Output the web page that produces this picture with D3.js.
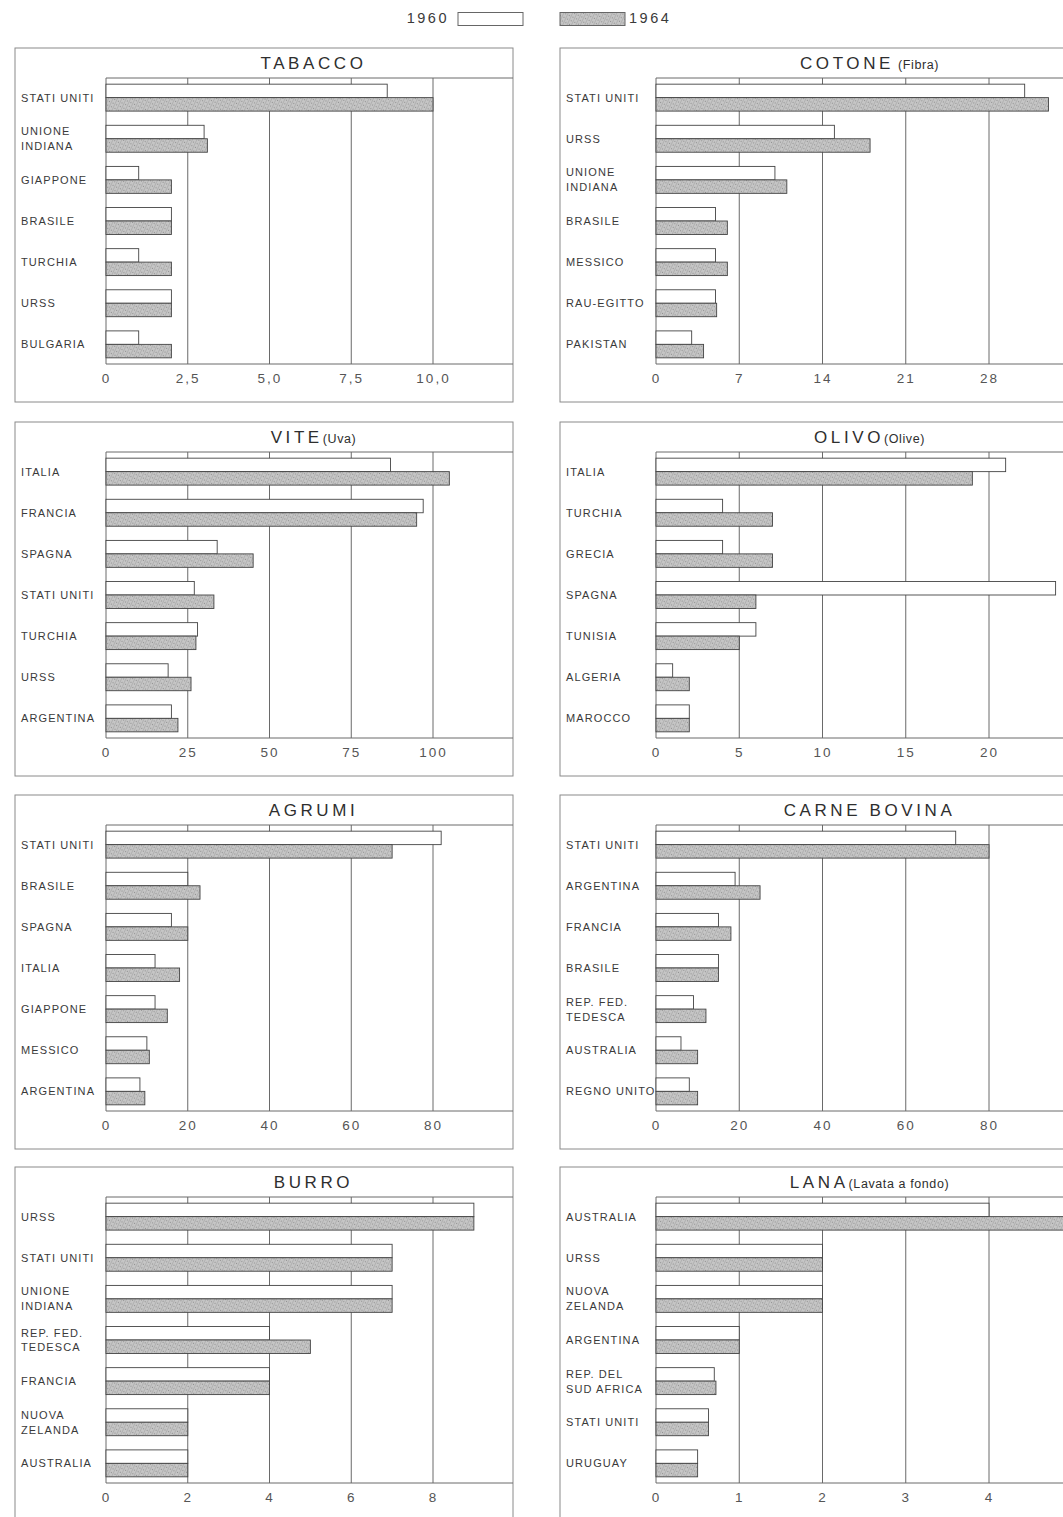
<!DOCTYPE html>
<html><head><meta charset="utf-8">
<script src="https://cdn.jsdelivr.net/npm/d3@7"></script>
<style>body{margin:0;background:#fff}svg{display:block}</style>
</head><body><svg id="c" width="1063" height="1517"></svg>
<script>
const years = ["1960", "1964"];

const tabaccoCountries = ["STATI UNITI", "UNIONE|INDIANA", "GIAPPONE", "BRASILE", "TURCHIA", "URSS", "BULGARIA"];
const tabacco1960 = [8.6, 3.0, 1.0, 2.0, 1.0, 2.0, 1.0];
const tabacco1964 = [10.0, 3.1, 2.0, 2.0, 2.0, 2.0, 2.0];
const tabaccoTicks = [0, 2.5, 5, 7.5, 10];
const tabaccoTickLabels = ["0", "2,5", "5,0", "7,5", "10,0"];

const cotoneCountries = ["STATI UNITI", "URSS", "UNIONE|INDIANA", "BRASILE", "MESSICO", "RAU-EGITTO", "PAKISTAN"];
const cotone1960 = [31, 15, 10, 5, 5, 5, 3];
const cotone1964 = [33, 18, 11, 6, 6, 5.1, 4];
const cotoneTicks = [0, 7, 14, 21, 28];
const cotoneTickLabels = ["0", "7", "14", "21", "28"];

const viteCountries = ["ITALIA", "FRANCIA", "SPAGNA", "STATI UNITI", "TURCHIA", "URSS", "ARGENTINA"];
const vite1960 = [87, 97, 34, 27, 28, 19, 20];
const vite1964 = [105, 95, 45, 33, 27.5, 26, 22];
const viteTicks = [0, 25, 50, 75, 100];
const viteTickLabels = ["0", "25", "50", "75", "100"];

const olivoCountries = ["ITALIA", "TURCHIA", "GRECIA", "SPAGNA", "TUNISIA", "ALGERIA", "MAROCCO"];
const olivo1960 = [21, 4, 4, 24, 6, 1, 2];
const olivo1964 = [19, 7, 7, 6, 5, 2, 2];
const olivoTicks = [0, 5, 10, 15, 20];
const olivoTickLabels = ["0", "5", "10", "15", "20"];

const agrumiCountries = ["STATI UNITI", "BRASILE", "SPAGNA", "ITALIA", "GIAPPONE", "MESSICO", "ARGENTINA"];
const agrumi1960 = [82, 20, 16, 12, 12, 10, 8.3];
const agrumi1964 = [70, 23, 20, 18, 15, 10.6, 9.5];
const agrumiTicks = [0, 20, 40, 60, 80];
const agrumiTickLabels = ["0", "20", "40", "60", "80"];

const carneCountries = ["STATI UNITI", "ARGENTINA", "FRANCIA", "BRASILE", "REP. FED.|TEDESCA", "AUSTRALIA", "REGNO UNITO"];
const carne1960 = [72, 19, 15, 15, 9, 6, 8];
const carne1964 = [80, 25, 18, 15, 12, 10, 10];
const carneTicks = [0, 20, 40, 60, 80];
const carneTickLabels = ["0", "20", "40", "60", "80"];

const burroCountries = ["URSS", "STATI UNITI", "UNIONE|INDIANA", "REP. FED.|TEDESCA", "FRANCIA", "NUOVA|ZELANDA", "AUSTRALIA"];
const burro1960 = [9, 7, 7, 4, 4, 2, 2];
const burro1964 = [9, 7, 7, 5, 4, 2, 2];
const burroTicks = [0, 2, 4, 6, 8];
const burroTickLabels = ["0", "2", "4", "6", "8"];

const lanaCountries = ["AUSTRALIA", "URSS", "NUOVA|ZELANDA", "ARGENTINA", "REP. DEL|SUD AFRICA", "STATI UNITI", "URUGUAY"];
const lana1960 = [4, 2, 2, 1, 0.7, 0.63, 0.5];
const lana1964 = [5, 2, 2, 1, 0.72, 0.63, 0.5];
const lanaTicks = [0, 1, 2, 3, 4];
const lanaTickLabels = ["0", "1", "2", "3", "4"];

const panels = [
  {title: "TABACCO", sub: "", cats: tabaccoCountries, v: [tabacco1960, tabacco1964], ticks: tabaccoTicks, labels: tabaccoTickLabels, col: 0, row: 0},
  {title: "COTONE", sub: " (Fibra)", cats: cotoneCountries, v: [cotone1960, cotone1964], ticks: cotoneTicks, labels: cotoneTickLabels, col: 1, row: 0},
  {title: "VITE", sub: "(Uva)", cats: viteCountries, v: [vite1960, vite1964], ticks: viteTicks, labels: viteTickLabels, col: 0, row: 1},
  {title: "OLIVO", sub: "(Olive)", cats: olivoCountries, v: [olivo1960, olivo1964], ticks: olivoTicks, labels: olivoTickLabels, col: 1, row: 1},
  {title: "AGRUMI", sub: "", cats: agrumiCountries, v: [agrumi1960, agrumi1964], ticks: agrumiTicks, labels: agrumiTickLabels, col: 0, row: 2},
  {title: "CARNE BOVINA", sub: "", cats: carneCountries, v: [carne1960, carne1964], ticks: carneTicks, labels: carneTickLabels, col: 1, row: 2},
  {title: "BURRO", sub: "", cats: burroCountries, v: [burro1960, burro1964], ticks: burroTicks, labels: burroTickLabels, col: 0, row: 3},
  {title: "LANA", sub: "(Lavata a fondo)", cats: lanaCountries, v: [lana1960, lana1964], ticks: lanaTicks, labels: lanaTickLabels, col: 1, row: 3}
];

const svg = d3.select("#c");
const defs = svg.append("defs");
const pat = defs.append("pattern").attr("id", "stip").attr("width", 4).attr("height", 4)
  .attr("patternUnits", "userSpaceOnUse").attr("patternTransform", "rotate(25)");
pat.append("rect").attr("width", 4).attr("height", 4).attr("fill", "#c6c6c6");
pat.append("line").attr("x1", 0).attr("y1", 0).attr("x2", 0).attr("y2", 4)
  .attr("stroke", "#a2a2a2").attr("stroke-width", 1.2);
pat.append("circle").attr("cx", 2.5).attr("cy", 1.2).attr("r", 0.55).attr("fill", "#7d7d7d");

const FONT = "'Liberation Sans', Arial, sans-serif";
const INK = "#3a3a3a";
const LINE = "#6a6a6a";

// legend
const lg = svg.append("g");
lg.append("text").attr("x", 449).attr("y", 23).attr("text-anchor", "end")
  .attr("font-family", FONT).attr("font-size", 14.5).attr("letter-spacing", 2.5).attr("fill", INK).text(years[0]);
lg.append("rect").attr("x", 458).attr("y", 12.5).attr("width", 65).attr("height", 13)
  .attr("fill", "#fff").attr("stroke", "#666").attr("stroke-width", 1);
lg.append("rect").attr("x", 560).attr("y", 12.5).attr("width", 65).attr("height", 13)
  .attr("fill", "url(#stip)").attr("stroke", "#666").attr("stroke-width", 1);
lg.append("text").attr("x", 629).attr("y", 23)
  .attr("font-family", FONT).attr("font-size", 14.5).attr("letter-spacing", 2.5).attr("fill", INK).text(years[1]);

const colGeom = [
  {frameX: 15, frameW: 498, plotL: 106, tickMaxPx: 433},
  {frameX: 560, frameW: 520, plotL: 656, tickMaxPx: 989}
];
const rowTops = [48, 422, 795, 1167];
const frameH = 354;

panels.forEach(p => {
  const cg = colGeom[p.col];
  const top = rowTops[p.row];
  const plotT = top + 30, plotB = top + 316;
  const frameR = cg.frameX + cg.frameW;
  const g = svg.append("g");

  const x = d3.scaleLinear().domain([0, p.ticks[p.ticks.length - 1]]).range([cg.plotL, cg.tickMaxPx]);
  const y = d3.scaleBand().domain(p.cats).range([plotT, plotB]).paddingInner(0.345).paddingOuter(0.15);
  const yy = d3.scaleBand().domain(years).range([0, y.bandwidth()]);

  // frame
  g.append("rect").attr("x", cg.frameX).attr("y", top).attr("width", cg.frameW).attr("height", frameH)
    .attr("fill", "none").attr("stroke", "#8a8a8a").attr("stroke-width", 1);

  // title
  const t = g.append("text").attr("x", (cg.plotL + Math.min(frameR, 1075)) / 2 + 4).attr("y", top + 21)
    .attr("text-anchor", "middle").attr("font-family", FONT).attr("fill", "#2e2e2e");
  t.append("tspan").attr("font-size", 17).attr("letter-spacing", 3.6).text(p.title);
  if (p.sub) t.append("tspan").attr("font-size", 12.5).attr("letter-spacing", 0.6).text(p.sub);

  // grid lines
  g.selectAll(".grid").data(p.ticks).join("line")
    .attr("x1", d => x(d)).attr("x2", d => x(d)).attr("y1", plotT).attr("y2", plotB)
    .attr("stroke", LINE).attr("stroke-width", 1);
  g.append("line").attr("x1", cg.plotL).attr("x2", frameR).attr("y1", plotT).attr("y2", plotT)
    .attr("stroke", LINE).attr("stroke-width", 1);
  g.append("line").attr("x1", cg.plotL).attr("x2", frameR).attr("y1", plotB).attr("y2", plotB)
    .attr("stroke", LINE).attr("stroke-width", 1);

  // bars
  const rows = p.cats.map((c, i) => ({c, vals: years.map((yr, k) => ({yr, v: p.v[k][i]}))}));
  const grp = g.selectAll(".cat").data(rows).join("g").attr("transform", d => `translate(0,${y(d.c)})`);
  grp.selectAll("rect").data(d => d.vals).join("rect")
    .attr("x", x(0)).attr("y", d => yy(d.yr))
    .attr("width", d => x(d.v) - x(0)).attr("height", yy.bandwidth())
    .attr("fill", d => d.yr === years[0] ? "#fff" : "url(#stip)")
    .attr("stroke", "#444").attr("stroke-width", 0.9);

  // category labels
  grp.each(function(d) {
    const lines = d.c.split("|");
    const tx = d3.select(this).append("text").attr("font-family", FONT).attr("font-size", 11)
      .attr("letter-spacing", 1.1).attr("fill", INK);
    const cy = y.bandwidth() / 2;
    lines.forEach((ln, i) => {
      tx.append("tspan").attr("x", cg.frameX + 6)
        .attr("y", cy + 4 + (i - (lines.length - 1) / 2) * 15).text(ln);
    });
  });

  // axis tick labels
  const ax = d3.axisBottom(x).tickValues(p.ticks).tickSize(0).tickPadding(9)
    .tickFormat((d, i) => p.labels[i]);
  const axg = g.append("g").attr("transform", `translate(0,${plotB})`).call(ax);
  axg.select(".domain").remove();
  axg.selectAll("text").attr("font-family", FONT).attr("font-size", 13.5)
    .attr("letter-spacing", 2).attr("fill", "#555");
});
</script>
</body></html>
